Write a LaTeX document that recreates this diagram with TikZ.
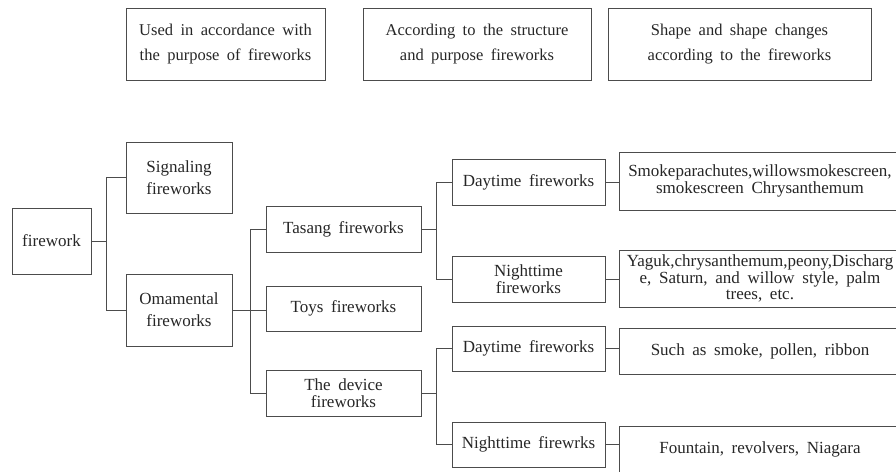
\documentclass[tikz,border=0pt]{standalone}
\usepackage{fontspec}
\setmainfont{Liberation Serif}
\usetikzlibrary{calc}
\newcommand\widespace{\spaceskip=0.45em plus 0.1em\relax}

\begin{document}
\begin{tikzpicture}[x=1pt,y=-1pt,
        box/.style={draw=black!70, line width=0.8pt, text=black!85, align=center, inner sep=0pt,
            font=\fontsize{17}{16.5}\selectfont\widespace},
        tallbox/.style={box, font=\fontsize{17}{22}\selectfont\widespace},
        headbox/.style={box, font=\fontsize{16.5}{25}\selectfont\widespace},
        link/.style={draw=black!70, line width=0.8pt}]
        \useasboundingbox (0,0) rectangle (896,471);
        \clip (0,0) rectangle (896,471);

        \node [headbox, minimum width=199, minimum height=72] (use) at (225.5,44) {Used in accordance with\\the purpose of fireworks};
        \node [headbox, minimum width=228, minimum height=72] (struct) at (477,44) {According to the structure\\and purpose fireworks};
        \node [headbox, minimum width=263, minimum height=72] (shape) at (739.5,44) {Shape and shape changes\\according to the fireworks};

        \node [box, minimum width=79, minimum height=66] (fw) at (51.5,241) {firework};
        \node [tallbox, minimum width=106, minimum height=71] (sig) at (179,177.5) {Signaling\\fireworks};
        \node [tallbox, minimum width=106, minimum height=72] (orn) at (179,310) {Omamental\\fireworks};

        \node [box, minimum width=155, minimum height=46] (tas) at (343.5,229) {Tasang fireworks};
        \node [box, minimum width=155, minimum height=45] (toy) at (343.5,308.5) {Toys fireworks};
        \node [box, minimum width=155, minimum height=46] (dev) at (343.5,393) {The device\\fireworks};

        \node [box, minimum width=153, minimum height=46] (day1) at (528.5,182) {Daytime fireworks};
        \node [box, minimum width=153, minimum height=46] (ngt1) at (528.5,279) {Nighttime\\fireworks};
        \node [box, minimum width=153, minimum height=45] (day2) at (528.5,348.5) {Daytime fireworks};
        \node [box, minimum width=153, minimum height=45] (ngt2) at (528.5,444.5) {Nighttime firewrks};

        \node [box, minimum width=282, minimum height=58] (smoke) at (760,181) {Smokeparachutes,willowsmokescreen,\\smokescreen Chrysanthemum};
        \node [box, minimum width=282, minimum height=57] (yaguk) at (760,278.5) {Yaguk,chrysanthemum,peony,Discharg\\e, Saturn, and willow style, palm\\trees, etc.};
        \node [box, minimum width=282, minimum height=46] (such) at (760,351) {Such as smoke, pollen, ribbon};
        \node [box, minimum width=282, minimum height=46] (fount) at (760,449) {Fountain, revolvers, Niagara};

        \draw [link] (fw.east) -- ++(15,0) |- (sig.west);
        \draw [link] (fw.east) -- ++(15,0) |- (orn.west);

        \draw [link] (orn.east) -- ++(18,0) |- (tas.west);
        \draw [link] (orn.east) -- (orn.east -| toy.west);
        \draw [link] (orn.east) -- ++(18,0) |- (dev.west);

        \draw [link] (tas.east) -- ++(15,0) |- (day1.west);
        \draw [link] (tas.east) -- ++(15,0) |- (ngt1.west);
        \draw [link] (dev.east) -- ++(15,0) |- (day2.west);
        \draw [link] (dev.east) -- ++(15,0) |- (ngt2.west);

        \draw [link] (day1.east) -- (day1.east -| smoke.west);
        \draw [link] (ngt1.east) -- (ngt1.east -| yaguk.west);
        \draw [link] (day2.east) -- (day2.east -| such.west);
        \draw [link] (ngt2.east) -- (ngt2.east -| fount.west);
\end{tikzpicture}
\end{document}
